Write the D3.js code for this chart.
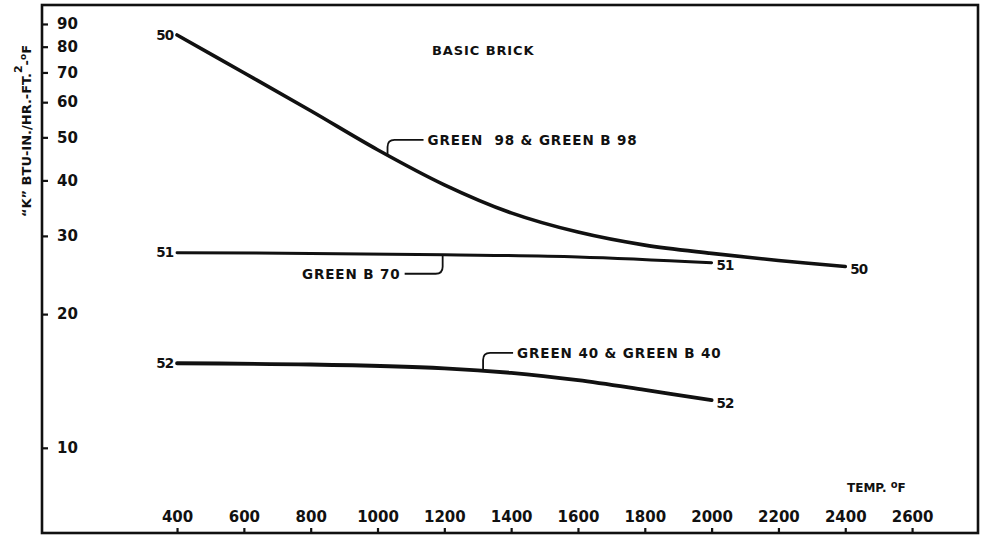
<!DOCTYPE html>
<html>
<head>
<meta charset="utf-8">
<script src="https://cdn.jsdelivr.net/npm/d3@7"></script>
<style>
  html, body { margin: 0; padding: 0; background: #fff; }
  svg { display: block; }
  text { font-family: "DejaVu Sans", "Liberation Sans", sans-serif; font-weight: bold; fill: #111; }
</style>
</head>
<body>
<svg id="chart" width="986" height="542"></svg>
<script>
// Thermal conductivity "K" of basic brick grades vs. temperature (°F)
const temps50 = [400, 600, 800, 1000, 1200, 1400, 1600, 1800, 2000, 2200, 2400];
const k50     = [85, 69.9, 57.4, 46.9, 39.1, 33.8, 30.6, 28.6, 27.4, 26.4, 25.6];

const temps51 = [400, 800, 1200, 1600, 2000];
const k51     = [27.5, 27.4, 27.2, 26.9, 26.1];

const temps52 = [400, 800, 1200, 1400, 1600, 1800, 2000];
const k52     = [15.5, 15.4, 15.1, 14.75, 14.2, 13.5, 12.8];

const xTicks = [400, 600, 800, 1000, 1200, 1400, 1600, 1800, 2000, 2200, 2400, 2600];
const yTicks = [10, 20, 30, 40, 50, 60, 70, 80, 90];

const curveIds   = ["50", "51", "52"];
const curveNames = ["GREEN  98 & GREEN B 98", "GREEN B 70", "GREEN 40 & GREEN B 40"];
const leaderTemps = [1030, 1195, 1316];

const svg = d3.select("#chart");

const frame = { left: 42, right: 978, top: 5, bottom: 533 };

const x = d3.scaleLinear().domain([0, 2800]).range([43.4, 978.9]);
const y = d3.scaleLog().domain([6.43, 99.3]).range([frame.bottom, frame.top]);

// frame
svg.append("rect")
  .attr("x", frame.left).attr("y", frame.top)
  .attr("width", frame.right - frame.left).attr("height", frame.bottom - frame.top)
  .attr("fill", "none").attr("stroke", "#111").attr("stroke-width", 2.6);

// y axis (ticks point into the plot)
const yAxis = svg.append("g")
  .attr("transform", `translate(${frame.left},0)`)
  .call(d3.axisRight(y).tickValues(yTicks).tickFormat(d3.format("d")).tickSize(6).tickPadding(9));
yAxis.select(".domain").remove();
yAxis.selectAll("line").attr("stroke", "#111").attr("stroke-width", 2.2);
yAxis.selectAll("text").style("font-size", "15px").style("font-family", "DejaVu Sans").style("font-weight", "bold").attr("fill", "#111");

// x axis (ticks point up, labels inside the frame)
const xAxis = svg.append("g")
  .attr("transform", `translate(0,${frame.bottom})`)
  .call(d3.axisTop(x).tickValues(xTicks).tickFormat(d3.format("d")).tickSize(5).tickPadding(6));
xAxis.select(".domain").remove();
xAxis.selectAll("line").attr("stroke", "#111").attr("stroke-width", 2.2);
xAxis.selectAll("text").style("font-size", "15px").style("font-family", "DejaVu Sans").style("font-weight", "bold").attr("fill", "#111");

// axis titles
const yt = svg.append("text")
  .attr("transform", "translate(31,131) rotate(-90)")
  .attr("text-anchor", "middle")
  .style("font-size", "13px");
yt.append("tspan").text("\u201CK\u201D BTU-IN./HR.-FT.");
yt.append("tspan").attr("dy", -9).style("font-size", "11px").text("2");
yt.append("tspan").attr("dy", 9).text("-");
yt.append("tspan").attr("dy", -5).style("font-size", "9px").text("o");
yt.append("tspan").attr("dy", 5).text("F");

const tt = svg.append("text").attr("x", 847).attr("y", 492).style("font-size", "12px");
tt.append("tspan").text("TEMP. ");
tt.append("tspan").attr("dy", -4).style("font-size", "10px").text("o");
tt.append("tspan").attr("dy", 4).text("F");

svg.append("text").attr("x", 432).attr("y", 55)
  .style("font-size", "13px").style("letter-spacing", "0.9px").text("BASIC BRICK");

// curves
const series = [
  { t: temps50, k: k50 },
  { t: temps51, k: k51 },
  { t: temps52, k: k52 }
];
const widths = [3.6, 3.0, 3.8];

const line = d3.line()
  .x(d => x(d[0]))
  .y(d => y(d[1]))
  .curve(d3.curveCatmullRom.alpha(0.5));

series.forEach((s, i) => {
  const pts = s.t.map((t, j) => [t, s.k[j]]);
  svg.append("path").datum(pts)
    .attr("d", line)
    .attr("fill", "none")
    .attr("stroke", "#111")
    .attr("stroke-width", widths[i])
    .attr("stroke-linecap", "round");

  const first = pts[0], last = pts[pts.length - 1];
  svg.append("text")
    .attr("x", x(first[0]) - 4).attr("y", y(first[1]))
    .attr("dy", "0.35em").attr("text-anchor", "end")
    .style("font-size", "13.5px").style("letter-spacing", "-1px")
    .text(curveIds[i]);
  svg.append("text")
    .attr("x", x(last[0]) + 5).attr("y", y(last[1]) + 3)
    .attr("dy", "0.35em")
    .style("font-size", "13.5px").style("letter-spacing", "-1px")
    .text(curveIds[i]);
});

// value of a series at a temperature (log-linear between read points)
function kAt(s, t) {
  const j = Math.max(1, d3.bisectLeft(s.t, t));
  const t0 = s.t[j - 1], t1 = s.t[j];
  const f = (t - t0) / (t1 - t0);
  return Math.exp(Math.log(s.k[j - 1]) * (1 - f) + Math.log(s.k[j]) * f);
}

// leader lines from each curve to its grade name
function leader(i, dir, dyOff, len) {
  const s = series[i];
  const cx = x(leaderTemps[i]);
  const cy = y(kAt(s, leaderTemps[i]));
  const ly = cy + dyOff;
  const r = 7;
  const sy = Math.sign(dyOff);
  const p = d3.path();
  p.moveTo(cx, cy);
  p.lineTo(cx, ly - sy * r);
  p.quadraticCurveTo(cx, ly, cx + dir * r, ly);
  p.lineTo(cx + dir * len, ly);
  svg.append("path").attr("d", p.toString())
    .attr("fill", "none").attr("stroke", "#111").attr("stroke-width", 1.8);
  svg.append("text")
    .attr("x", cx + dir * (len + 4)).attr("y", ly)
    .attr("dy", "0.36em")
    .attr("text-anchor", dir > 0 ? "start" : "end")
    .style("font-size", "13.5px").style("letter-spacing", "0.9px")
    .attr("xml:space", "preserve")
    .text(curveNames[i]);
}
leader(0, 1, -15, 36);
leader(1, -1, 19, 38);
leader(2, 1, -18, 30);
</script>
</body>
</html>
